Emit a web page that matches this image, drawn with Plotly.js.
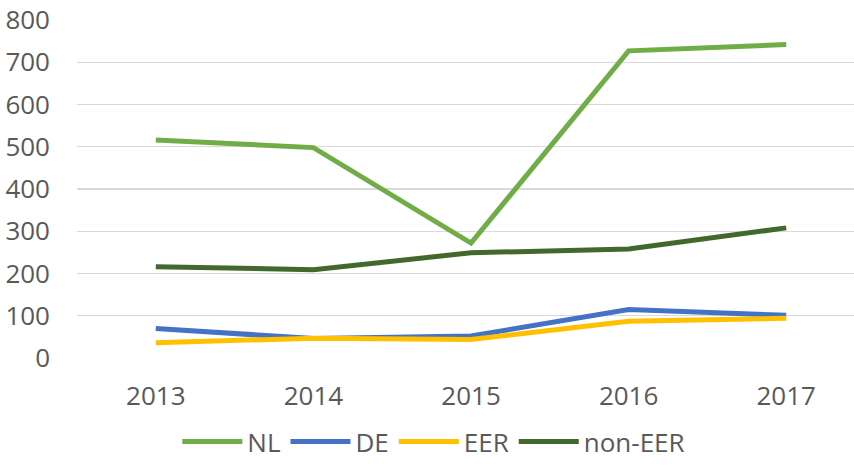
<!DOCTYPE html>
<html><head><meta charset="utf-8">
<script src="https://cdn.plot.ly/plotly-3.0.1.min.js"></script>
<style>html,body{margin:0;padding:0;background:#fff}#chart{width:854px;height:465px}</style>
</head><body><div id="chart"></div>
<script>
const years = ['2013','2014','2015','2016','2017'];
const nl = [516, 498, 272, 727, 742];
const de = [70, 46, 52, 115, 101];
const eer = [36, 47, 44, 87, 94];
const nonEer = [216, 209, 249, 258, 308];
const yTicks = [0,100,200,300,400,500,600,700,800];

function tr(name, y, color){
  return {x: years, y: y, name: name, type:'scatter', mode:'lines',
    line:{color: color, width: 5}, hoverinfo:'skip'};
}
const data = [
  tr('NL', nl, '#70AD47'),
  tr('DE', de, '#4472C4'),
  tr('EER', eer, '#FFC000'),
  tr('non-EER', nonEer, '#43682B')
];
const layout = {
  width: 854, height: 465,
  margin: {l:77, r:0, t:20, b:107},
  paper_bgcolor:'#fff', plot_bgcolor:'#fff',
  font:{family:'"Open Sans", sans-serif', size:26, color:'#595959'},
  showlegend:true,
  legend:{orientation:'h', xref:'container', yref:'container', x:0.508, xanchor:'center',
    y:0, yanchor:'bottom', font:{size:26, color:'#595959'}, itemwidth:60, tracegroupgap:0,
    bgcolor:'rgba(0,0,0,0)'},
  xaxis:{type:'category', range:[-0.5, 4.43], showgrid:false, zeroline:false,
    showline:false, ticks:'', tickfont:{size:26, color:'#595959'}, ticklabelstandoff:20},
  yaxis:{range:[0,800], tickvals:yTicks, showgrid:true, gridcolor:'#D9D9D9', gridwidth:1.3,
    zeroline:false, showline:false, ticks:'', tickfont:{size:26, color:'#595959'},
    ticklabelstandoff:26, automargin:false}
};
Plotly.newPlot('chart', data, layout, {displayModeBar:false, staticPlot:true});
</script></body></html>
